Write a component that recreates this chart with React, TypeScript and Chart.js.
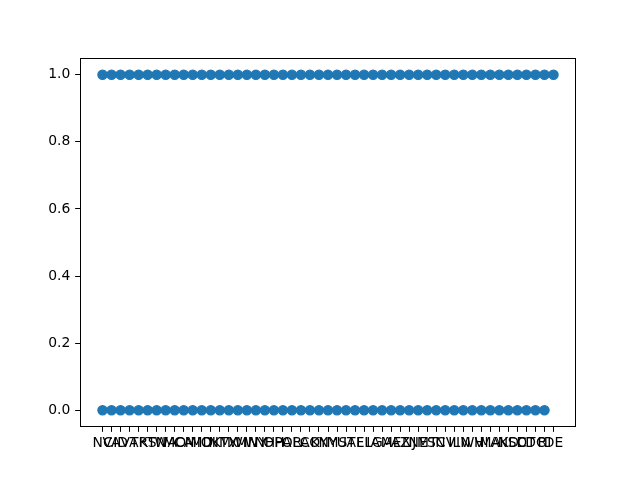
import React, { useEffect, useRef } from "react";
import { Chart, registerables } from "chart.js";

Chart.register(...registerables);

const categories = [
  "NC", "VA", "ID", "VT", "AR", "KS", "TN", "WA", "MO", "CA",
  "MI", "MD", "OK", "NM", "TX", "WI", "MN", "WY", "NH", "OH",
  "PA", "OR", "LA", "CO", "KY", "NY", "MS", "UT", "AL", "FL",
  "IA", "GA", "ME", "AZ", "NJ", "NE", "MT", "SC", "NV", "IL",
  "IN", "WV", "HI", "MA", "AK", "ND", "SD", "CT", "DC", "RI", "DE",
];

// states observed with value 1 and with value 0
const statesWithOne = categories.slice();
const statesWithZero = categories.filter((s) => s !== "DE");

const yTicks = [0.0, 0.2, 0.4, 0.6, 0.8, 1.0];

export default function App() {
  const ref = useRef<HTMLCanvasElement | null>(null);
  useEffect(() => {
    document.body.style.margin = "0";
    const points = [
      ...statesWithZero.map((s) => ({ x: categories.indexOf(s), y: 0 })),
      ...statesWithOne.map((s) => ({ x: categories.indexOf(s), y: 1 })),
    ];
    const frame = {
      id: "frame",
      afterDraw(chart: any) {
        const { ctx, chartArea: a } = chart;
        ctx.save();
        ctx.strokeStyle = "#000";
        ctx.lineWidth = 1;
        ctx.strokeRect(Math.round(a.left) + 0.5, Math.round(a.top) + 0.5, Math.round(a.right - a.left) - 1, Math.round(a.bottom - a.top) - 1);
        ctx.restore();
      },
    };
    const font = { family: "DejaVu Sans", size: 13.9 };
    const chart = new Chart(ref.current!, {
      type: "scatter",
      data: {
        datasets: [
          {
            data: points,
            backgroundColor: "#1f77b4",
            borderColor: "#1f77b4",
            pointRadius: 4.6,
            borderWidth: 1.4,
          },
        ],
      },
      options: {
        animation: false,
        responsive: false,
        plugins: { legend: { display: false }, tooltip: { enabled: false } },
        layout: { padding: { left: 0, top: 58, right: 64, bottom: 0 } },
        scales: {
          x: {
            type: "linear",
            min: -2.5,
            max: categories.length - 1 + 2.5,
            afterBuildTicks: (scale: any) => {
              scale.ticks = categories.map((_, i) => ({ value: i }));
            },
            afterFit: (scale: any) => {
              scale.height = 53;
            },
            ticks: {
              autoSkip: false,
              maxRotation: 0,
              minRotation: 0,
              color: "#000",
              font,
              padding: 3,
              callback: (v: any) => categories[v as number] ?? "",
            },
            grid: {
              display: true,
              drawOnChartArea: false,
              drawTicks: true,
              tickLength: 4.86,
              color: "#000",
            },
            border: { display: false },
          },
          y: {
            type: "linear",
            min: -0.05,
            max: 1.05,
            afterBuildTicks: (scale: any) => {
              scale.ticks = yTicks.map((v) => ({ value: v }));
            },
            afterFit: (scale: any) => {
              scale.width = 80;
            },
            ticks: {
              color: "#000",
              font,
              padding: 4.86,
              callback: (v: any) => Number(v).toFixed(1),
            },
            grid: {
              display: true,
              drawOnChartArea: false,
              drawTicks: true,
              tickLength: 4.86,
              color: "#000",
            },
            border: { display: false },
          },
        },
      },
      plugins: [frame],
    });
    return () => chart.destroy();
  }, []);
  return (
    <div style={{ position: "absolute", left: 0, top: 0, width: 640, height: 480, background: "#fff" }}>
      <canvas ref={ref} width={640} height={480} style={{ width: 640, height: 480 }} />
    </div>
  );
}
